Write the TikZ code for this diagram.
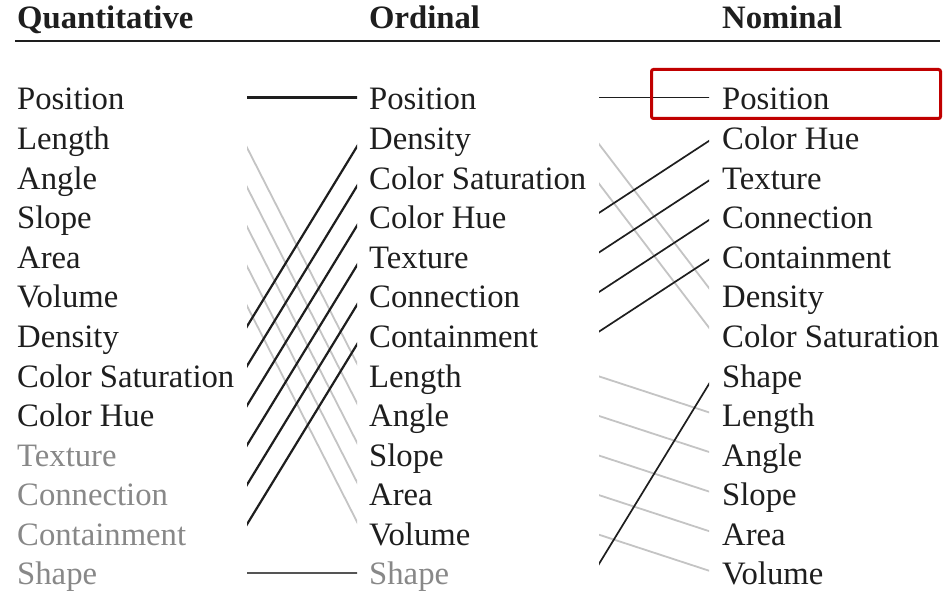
\documentclass[tikz,border=0pt]{standalone}
\usepackage{fontspec}
\setmainfont{Liberation Serif}
\definecolor{ink}{RGB}{30,30,30}
\definecolor{dimtxt}{RGB}{136,136,136}
\definecolor{lgray}{RGB}{196,196,196}
\definecolor{dgray}{RGB}{85,85,85}
\definecolor{hired}{RGB}{192,0,0}
\begin{document}
\begin{tikzpicture}[x=1pt,y=-1pt,
  lbl/.style={anchor=base west, inner sep=0pt, text height=28pt, text depth=3.2pt,
    font=\fontsize{32.7}{36}\selectfont},
  hdr/.style={anchor=base west, inner sep=0pt, font=\fontsize{32.7}{36}\selectfont\bfseries, text=ink},
  blk/.style={draw=ink, line width=2.2pt},
  blkr/.style={draw=ink, line width=1.7pt},
  gry/.style={draw=lgray, line width=1.8pt},
  dk/.style={draw=dgray, line width=2.1pt},
  redbox/.style={draw=hired, line width=3pt, rounded corners=2pt}]
\fill[white] (0,0) rectangle (951,593);
\useasboundingbox (0,0) rectangle (951,593);

% headers
\node[hdr] (hq) at (17,28.3) {Quantitative};
\node[hdr] (ho) at (369,28.3) {Ordinal};
\node[hdr] (hn) at (722,28.3) {Nominal};
\draw[ink, line width=1.6pt] (15,41) -- (940,41);

% columns
\foreach \t/\c [count=\i from 0] in {Position/ink,Length/ink,Angle/ink,Slope/ink,Area/ink,Volume/ink,Density/ink,Color Saturation/ink,Color Hue/ink,Texture/dimtxt,Connection/dimtxt,Containment/dimtxt,Shape/dimtxt}
  \node[lbl, text=\c] (q\i) at (17,{110+39.58*\i}) {\t};
\foreach \t/\c [count=\i from 0] in {Position/ink,Density/ink,Color Saturation/ink,Color Hue/ink,Texture/ink,Connection/ink,Containment/ink,Length/ink,Angle/ink,Slope/ink,Area/ink,Volume/ink,Shape/dimtxt}
  \node[lbl, text=\c] (o\i) at (369,{110+39.58*\i}) {\t};
\foreach \t/\c [count=\i from 0] in {Position/ink,Color Hue/ink,Texture/ink,Connection/ink,Containment/ink,Density/ink,Color Saturation/ink,Shape/ink,Length/ink,Angle/ink,Slope/ink,Area/ink,Volume/ink}
  \node[lbl, text=\c] (n\i) at (722,{110+39.58*\i}) {\t};

\coordinate (LA) at (241.7,0);
\coordinate (LB) at (362.7,0);
\coordinate (RA) at (593.7,0);
\coordinate (RB) at (714.7,0);

% left connectors
\begin{scope}
\clip (247,0) rectangle (357,593);
\foreach \a/\b/\s in {1/7/gry,2/8/gry,3/9/gry,4/10/gry,5/11/gry,0/0/blk,6/1/blk,7/2/blk,8/3/blk,9/4/blk,10/5/blk,11/6/blk,12/12/dk}
  \draw[\s] (LA |- q\a) -- (LB |- o\b);
\end{scope}

% right connectors
\begin{scope}
\clip (599,0) rectangle (709,593);
\foreach \a/\b/\s in {1/5/gry,2/6/gry,7/8/gry,8/9/gry,9/10/gry,10/11/gry,11/12/gry,0/0/blkr,3/1/blkr,4/2/blkr,5/3/blkr,6/4/blkr,12/7/blkr}
  \draw[\s] (RA |- o\a) -- (RB |- n\b);
\end{scope}

% highlight
\draw[redbox] (651.5,69.5) rectangle (940.5,118.5);
\end{tikzpicture}
\end{document}
